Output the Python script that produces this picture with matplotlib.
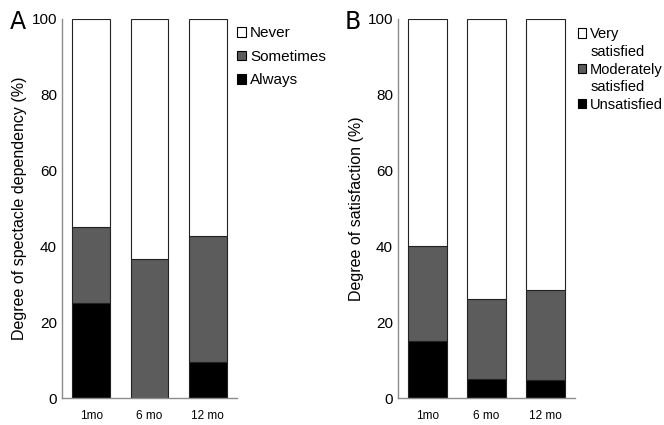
import numpy as np
import matplotlib.pyplot as plt
from matplotlib.patches import Patch

plt.rcParams['font.family'] = 'Liberation Sans'

months = ['1mo', '6 mo', '12 mo']

# spectacle dependency (%)
always = [25.0, 0.0, 9.5]
sometimes = [20.0, 36.7, 33.2]
never = [55.0, 63.3, 57.3]

# satisfaction (%)
unsatisfied = [15.0, 5.0, 4.7]
moderately = [25.0, 21.0, 23.8]
very = [60.0, 74.0, 71.5]

colors = ['black', '#5c5c5c', 'white']


def stacked(ax, series, ylabel, tag, labelpad):
    x = np.arange(len(months))
    bottom = np.zeros(len(months))
    for vals, col in zip(series, colors):
        ax.bar(x, vals, 0.65, bottom=bottom, color=col, edgecolor='#222222', linewidth=0.8)
        bottom += np.array(vals)
    ax.set_xlim(-0.5, 2.5)
    ax.set_ylim(0, 100)
    ax.set_yticks(range(0, 101, 20))
    ax.set_xticks(x)
    ax.set_xticklabels(months, fontsize=8.5)
    ax.tick_params(axis='both', length=0)
    ax.tick_params(axis='y', labelsize=11, pad=3.6)
    ax.tick_params(axis='x', pad=8.5)
    for s in ['top', 'right']:
        ax.spines[s].set_visible(False)
    for s in ['left', 'bottom']:
        ax.spines[s].set_color('#8c8c8c')
        ax.spines[s].set_linewidth(1.0)
    ax.set_ylabel(ylabel, fontsize=11.5, labelpad=labelpad)
    ax.text(-0.3, 0.993, tag, transform=ax.transAxes, fontsize=17,
            family='Liberation Sans Narrow', va='center')


def key(ax, labels, fills, anchor, spacing, size):
    # entries with fill None are continuation lines without a swatch
    handles = []
    for f in fills:
        if f is None:
            handles.append(Patch(facecolor='none', edgecolor='none'))
        else:
            handles.append(Patch(facecolor=f, edgecolor='black', linewidth=0.8))
    ax.legend(handles, labels, loc='upper left', bbox_to_anchor=anchor,
              frameon=False, fontsize=size, handlelength=0.6, handleheight=0.6,
              handletextpad=0.25, borderaxespad=0, borderpad=0, labelspacing=spacing)


fig = plt.figure(figsize=(6.64, 4.25), dpi=100)
axA = fig.add_axes([0.0934, 0.0635, 0.2636, 0.892])
axB = fig.add_axes([0.5994, 0.0635, 0.2666, 0.892])

stacked(axA, [always, sometimes, never], 'Degree of spectacle dependency (%)', 'A', 3.5)
key(axA, ['Never', 'Sometimes', 'Always'], [colors[2], colors[1], colors[0]],
    (1.0, 0.98), 0.62, 11)

stacked(axB, [unsatisfied, moderately, very], 'Degree of satisfaction (%)', 'B', 2.5)
key(axB, ['Very', 'satisfied', 'Moderately', 'satisfied', 'Unsatisfied'],
    [colors[2], None, colors[1], None, colors[0]], (1.015, 0.978), 0.25, 10.5)

fig.savefig('out.png', dpi=100)
